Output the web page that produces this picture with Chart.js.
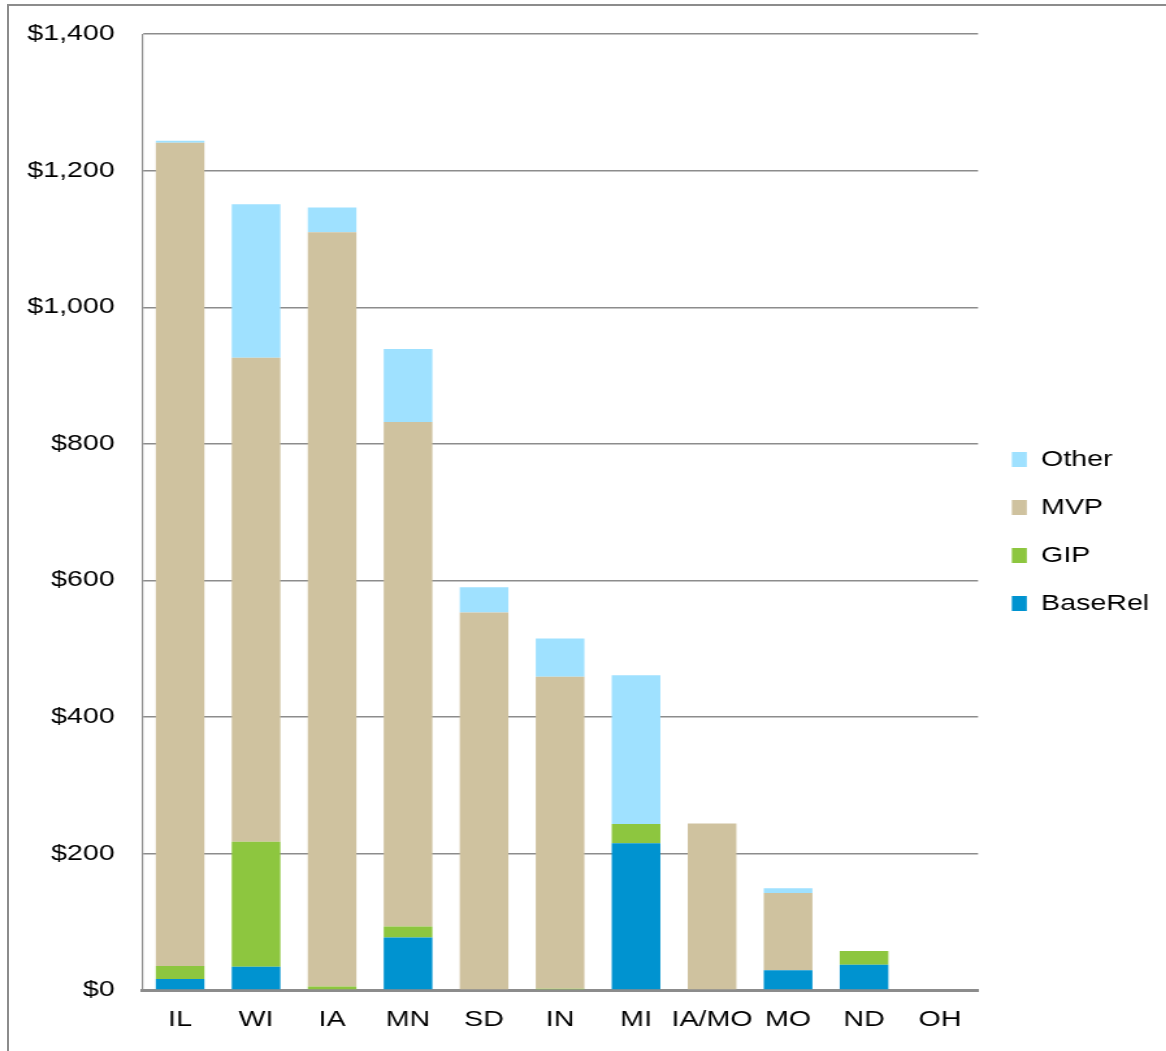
<!DOCTYPE html>
<html>
<head>
<meta charset="utf-8">
<script src="https://cdn.jsdelivr.net/npm/chart.js@4.4.1/dist/chart.umd.min.js"></script>
<style>
  html, body { margin: 0; padding: 0; background: #fff; }
  #wrap { position: relative; width: 1166px; height: 1051px; overflow: hidden; }
  #frame { position: absolute; left: 7px; top: 4px; right: 0; bottom: 0;
           border-left: 2px solid #8c8c8c; border-top: 2px solid #8c8c8c; }
  /* the original picture is stretched sideways, so the canvas is too */
  #stretch { position: absolute; left: 0; top: 0; transform: scaleX(1.3); transform-origin: 0 0; }
</style>
</head>
<body>
<div id="wrap">
  <div id="frame"></div>
  <div id="stretch"><canvas id="chart" width="897" height="1051"></canvas></div>
</div>
<script>
//-----------------------------------------------------------------------------
// Data (millions of $)
const states  = ['IL', 'WI', 'IA', 'MN', 'SD', 'IN', 'MI', 'IA/MO', 'MO', 'ND', 'OH'];
const baseRel = [16, 34, 1, 77, 0, 0, 215, 0, 29, 37, 0];
const gip     = [19, 183, 4, 16, 0, 2, 28, 0, 0, 20, 0];
const mvp     = [1206, 709, 1105, 739, 553, 457, 0, 244, 113, 0, 0];
const other   = [3, 225, 36, 107, 37, 56, 218, 0, 7, 0, 0];

//-----------------------------------------------------------------------------
// Chart
const font = "'Liberation Sans', Arial, sans-serif";
const gridGrey = '#8c8c8c';

function makeSet(label, data, color) {
  return {
    label: label,
    data: data,
    backgroundColor: color,
    borderWidth: 0,
    categoryPercentage: 1,
    barPercentage: 0.64
  };
}

new Chart(document.getElementById('chart'), {
  type: 'bar',
  data: {
    labels: states,
    datasets: [
      makeSet('BaseRel', baseRel, '#0093d0'),
      makeSet('GIP', gip, '#8dc63f'),
      makeSet('MVP', mvp, '#cfc29f'),
      makeSet('Other', other, '#9fe1ff')
    ]
  },
  options: {
    responsive: false,
    animation: false,
    layout: { padding: { left: 0, top: 13, right: 3, bottom: 1 } },
    plugins: {
      tooltip: { enabled: false },
      legend: {
        position: 'right',
        reverse: true,
        labels: {
          boxWidth: 11.5,
          boxHeight: 15,
          padding: 26,
          color: '#000',
          font: { family: font, size: 22 }
        }
      }
    },
    scales: {
      x: {
        stacked: true,
        grid: { display: false, drawTicks: false },
        border: { color: gridGrey, width: 3 },
        ticks: {
          color: '#000',
          padding: 19,
          autoSkip: false,
          minRotation: 0,
          maxRotation: 0,
          font: { family: font, size: 22, lineHeight: 1 }
        }
      },
      y: {
        stacked: true,
        min: 0,
        max: 1400,
        grid: { color: gridGrey, lineWidth: 1.5, drawTicks: false },
        border: { color: gridGrey, width: 1.2 },
        ticks: {
          stepSize: 200,
          padding: 21,
          color: '#000',
          font: { family: font, size: 22 },
          callback: v => '$' + v.toLocaleString('en-US')
        }
      }
    }
  }
});
</script>
</body>
</html>
